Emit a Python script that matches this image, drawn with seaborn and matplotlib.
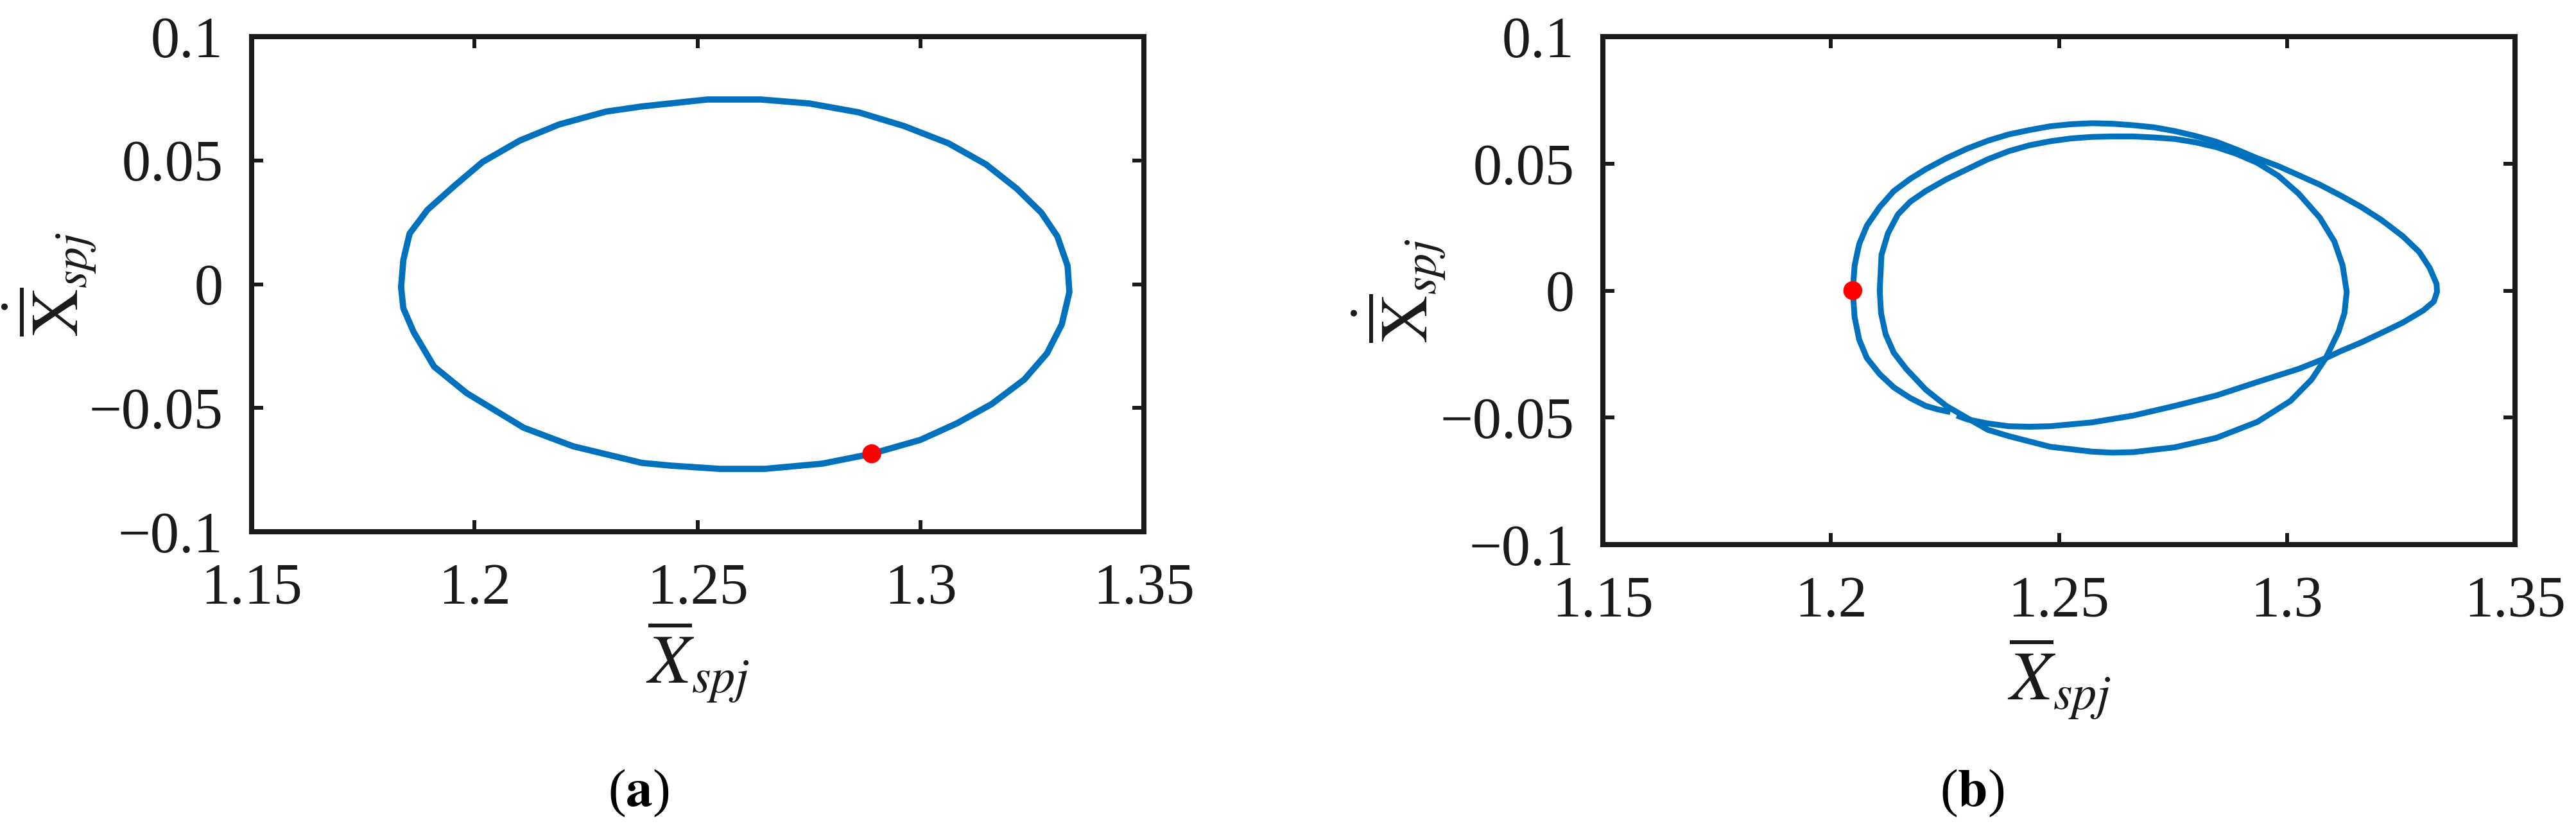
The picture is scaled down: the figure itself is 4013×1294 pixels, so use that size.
import numpy as np
import pandas as pd
import matplotlib
matplotlib.use("Agg")
import matplotlib.pyplot as plt
import seaborn as sns

# ---------------- data ----------------
# panel (a): single closed orbit
a_x = [1.1835, 1.1840, 1.1854, 1.1894, 1.1955, 1.2018, 1.2101, 1.2189, 1.2294, 1.2375,
       1.2522, 1.2641, 1.2750, 1.2861, 1.2962, 1.3062, 1.3146, 1.3215, 1.3270, 1.3306,
       1.3329, 1.3333, 1.3316, 1.3283, 1.3232, 1.3159, 1.3081, 1.2999, 1.2888, 1.2779,
       1.2650, 1.2549, 1.2440, 1.2375, 1.2221, 1.2110, 1.1982, 1.1909, 1.1863, 1.1840,
       1.1835]
a_y = [-0.0012, 0.0097, 0.0204, 0.0300, 0.0398, 0.0494, 0.0580, 0.0645, 0.0697, 0.0718,
       0.0746, 0.0746, 0.0730, 0.0694, 0.0639, 0.0569, 0.0484, 0.0386, 0.0289, 0.0193,
       0.0074, -0.0032, -0.0162, -0.0279, -0.0385, -0.0484, -0.0562, -0.0629, -0.0686, -0.0725,
       -0.0746, -0.0746, -0.0733, -0.0722, -0.0655, -0.0580, -0.0440, -0.0333, -0.0193, -0.0097,
       -0.0012]
a_dot_x = [1.289]
a_dot_y = [-0.0685]

# panel (b): period-2 orbit, outer loop (with the tip) and inner loop
b_outer_x = [1.2262, 1.2235, 1.2208, 1.2174, 1.2138, 1.2107, 1.2079, 1.2062, 1.2052, 1.2048,
             1.2052, 1.2062, 1.2079, 1.2107, 1.2138, 1.2174, 1.2208, 1.2253, 1.2299, 1.2344,
             1.2390, 1.2435, 1.2481, 1.2526, 1.2572, 1.2617, 1.2663, 1.2708, 1.2754, 1.2799,
             1.2845, 1.2890, 1.2935, 1.2981, 1.3026, 1.3072, 1.3117, 1.3163, 1.3208, 1.3254,
             1.3290, 1.3313, 1.3328, 1.3329, 1.3322, 1.3299, 1.3254, 1.3208, 1.3163, 1.3117,
             1.3085, 1.3026, 1.2935, 1.2845, 1.2754, 1.2663, 1.2572, 1.2481, 1.2435, 1.2390,
             1.2344, 1.2299, 1.2276]
b_outer_y = [-0.0478, -0.0468, -0.0454, -0.0423, -0.0381, -0.0329, -0.0266, -0.0193, -0.0105, 0.0000,
             0.0099, 0.0183, 0.0256, 0.0329, 0.0392, 0.0440, 0.0478, 0.0521, 0.0559, 0.0590,
             0.0615, 0.0632, 0.0647, 0.0655, 0.0659, 0.0657, 0.0651, 0.0643, 0.0628, 0.0609,
             0.0586, 0.0555, 0.0521, 0.0490, 0.0454, 0.0417, 0.0375, 0.0329, 0.0277, 0.0214,
             0.0152, 0.0089, 0.0026, -0.0005, -0.0043, -0.0078, -0.0126, -0.0166, -0.0204, -0.0239,
             -0.0266, -0.0308, -0.0360, -0.0413, -0.0454, -0.0492, -0.0519, -0.0534, -0.0536, -0.0534,
             -0.0523, -0.0507, -0.0492]
b_inner_x = [1.2107, 1.2111, 1.2125, 1.2147, 1.2174, 1.2208, 1.2253, 1.2299, 1.2344, 1.2390,
             1.2435, 1.2481, 1.2526, 1.2572, 1.2617, 1.2663, 1.2708, 1.2754, 1.2799, 1.2845,
             1.2890, 1.2935, 1.2981, 1.3026, 1.3072, 1.3104, 1.3122, 1.3131, 1.3126, 1.3113,
             1.3085, 1.3054, 1.3008, 1.2935, 1.2845, 1.2754, 1.2663, 1.2617, 1.2572, 1.2481,
             1.2390, 1.2344, 1.2299, 1.2253, 1.2208, 1.2165, 1.2138, 1.2120, 1.2110, 1.2107]
b_inner_y = [0.0000, 0.0141, 0.0225, 0.0300, 0.0350, 0.0392, 0.0438, 0.0478, 0.0517, 0.0549,
             0.0572, 0.0588, 0.0599, 0.0605, 0.0607, 0.0607, 0.0603, 0.0597, 0.0584, 0.0565,
             0.0538, 0.0503, 0.0452, 0.0381, 0.0287, 0.0193, 0.0099, -0.0005, -0.0089, -0.0162,
             -0.0266, -0.0350, -0.0434, -0.0517, -0.0580, -0.0617, -0.0636, -0.0638, -0.0634, -0.0615,
             -0.0573, -0.0548, -0.0502, -0.0454, -0.0390, -0.0308, -0.0245, -0.0172, -0.0089, 0.0000]
b_dot_x = [1.2048]
b_dot_y = [0.0000]

x_ticks = [1.15, 1.20, 1.25, 1.30, 1.35]
x_tick_labels = ["1.15", "1.2", "1.25", "1.3", "1.35"]
y_ticks = [-0.1, -0.05, 0.0, 0.05, 0.1]
y_tick_labels = ["\u22120.1", "\u22120.05", "0", "0.05", "0.1"]
panel_labels = ["a", "b"]
x_label = r"$\overline{X}_{spj}$"
y_label = r"$\dot{\overline{\mathrm{X}}}_{spj}$"

# ---------------- style ----------------
sns.set_theme(style="white")
plt.rcParams["font.family"] = ["Liberation Serif", "DejaVu Serif"]
plt.rcParams["mathtext.fontset"] = "stix"
plt.rcParams["axes.unicode_minus"] = True

LINE = "#0072BD"
INK = "#1a1a1a"

W, H = 4013, 1294
fig = plt.figure(figsize=(W / 100, H / 100), dpi=100)
fig.patch.set_facecolor("white")

ax_a = fig.add_axes([392 / W, 1 - 828 / H, 1390 / W, 771 / H])
ax_b = fig.add_axes([2497 / W, 1 - 848 / H, 1421 / W, 791 / H])

df_a = pd.DataFrame({"x": a_x, "y": a_y})
sns.lineplot(data=df_a, x="x", y="y", sort=False, estimator=None, ax=ax_a,
             color=LINE, linewidth=7.0)
sns.scatterplot(x=a_dot_x, y=a_dot_y, ax=ax_a, color="#FF0000", s=450,
                edgecolor="none", zorder=5)

df_bo = pd.DataFrame({"x": b_outer_x, "y": b_outer_y})
df_bi = pd.DataFrame({"x": b_inner_x, "y": b_inner_y})
sns.lineplot(data=df_bo, x="x", y="y", sort=False, estimator=None, ax=ax_b,
             color=LINE, linewidth=6.5, solid_capstyle="butt")
sns.lineplot(data=df_bi, x="x", y="y", sort=False, estimator=None, ax=ax_b,
             color=LINE, linewidth=6.5)
sns.scatterplot(x=b_dot_x, y=b_dot_y, ax=ax_b, color="#FF0000", s=450,
                edgecolor="none", zorder=5)

for ax, lbl_y, ylab_x in [(ax_a, -0.175, -0.172), (ax_b, -0.178, -0.170)]:
    ax.set_xlim(1.15, 1.35)
    ax.set_ylim(-0.1, 0.1)
    ax.set_xticks(x_ticks)
    ax.set_xticklabels(x_tick_labels)
    ax.set_yticks(y_ticks)
    ax.set_yticklabels(y_tick_labels)
    ax.tick_params(axis="both", which="major", direction="in", length=13, width=4.3,
                   color=INK, labelcolor=INK, labelsize=65,
                   top=True, right=True, bottom=True, left=True)
    ax.tick_params(axis="x", pad=35)
    ax.tick_params(axis="y", pad=32)
    for s in ax.spines.values():
        s.set_visible(True)
        s.set_linewidth(5.8)
        s.set_color(INK)
    ax.set_facecolor("white")
    ax.set_xlabel(x_label, fontsize=78, color=INK)
    ax.set_ylabel(y_label, fontsize=74, color=INK)
    ax.xaxis.set_label_coords(0.5, lbl_y)
    ax.yaxis.set_label_coords(ylab_x, 0.5)
    ax.grid(False)

for lab, xpos in zip(panel_labels, [995, 3072]):
    fig.text(xpos / W, 1 - 1235 / H, "(" + r"$\mathbf{" + lab + "}$" + ")",
             fontsize=60, color="black", ha="center", va="center")

fig.savefig("out.png", dpi=100, facecolor="white")
